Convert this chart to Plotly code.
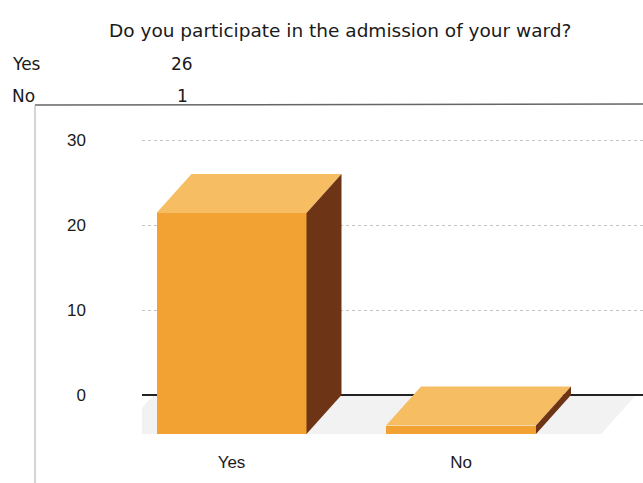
import plotly.graph_objects as go

# Survey answers and counts
categories = ["Yes", "No"]
counts = [26, 1]
y_ticks = [0, 10, 20, 30]
title_text = "Do you participate in the admission of your ward?"

W, H = 643, 483

# pixel geometry of the plotting region
PX_LEFT, PX_RIGHT = 142, 643
PX_TOP, PX_BOTTOM = 104, 445
PX_ZERO, PX_PER_UNIT_Y = 395, 8.5
PX_CAT0, PX_PER_CAT = 231.5, 229.5

y_lo = -(PX_BOTTOM - PX_ZERO) / PX_PER_UNIT_Y
y_hi = (PX_ZERO - PX_TOP) / PX_PER_UNIT_Y
x_lo = (PX_LEFT - PX_CAT0) / PX_PER_CAT
x_hi = (PX_RIGHT - PX_CAT0) / PX_PER_CAT

# 3D depth offset (back face relative to front face), in data units
DEPTH_X = 35 / PX_PER_CAT
DEPTH_Y = 39 / PX_PER_UNIT_Y
BAR_W = 150 / PX_PER_CAT

FRONT = "#F2A232"
TOP = "#F6BD62"
SIDE = "#6E3416"

xs = list(range(len(categories)))

fig = go.Figure()
# front faces, pushed forward (down) by the depth offset
fig.add_trace(go.Bar(
    x=xs, y=counts, base=[-DEPTH_Y] * len(counts), width=BAR_W,
    marker=dict(color=FRONT, line=dict(width=0)),
    hoverinfo="skip", showlegend=False,
))

shapes = []
# floor below the zero line
fx0, fx1 = x_lo + 0.05, x_hi - 0.03
shapes.append(dict(
    type="path", xref="x", yref="y", layer="below",
    path=f"M {fx0},{0} L {fx1},{0} L {fx1 - DEPTH_X},{-DEPTH_Y} L {fx0 - DEPTH_X},{-DEPTH_Y} Z",
    fillcolor="#f2f2f2", line=dict(width=0),
))

for x, v in zip(xs, counts):
    l, r = x - BAR_W / 2, x + BAR_W / 2
    top_f = v - DEPTH_Y
    # top face
    shapes.append(dict(
        type="path", xref="x", yref="y", layer="above",
        path=f"M {l},{top_f} L {l + DEPTH_X},{v} L {r + DEPTH_X},{v} L {r},{top_f} Z",
        fillcolor=TOP, line=dict(width=0),
    ))
    # right side face
    shapes.append(dict(
        type="path", xref="x", yref="y", layer="above",
        path=f"M {r},{-DEPTH_Y} L {r + DEPTH_X},{0} L {r + DEPTH_X},{v} L {r},{top_f} Z",
        fillcolor=SIDE, line=dict(width=0),
    ))

# chart frame lines
shapes.append(dict(type="line", xref="paper", yref="paper",
                   x0=35 / W, x1=1, y0=1 - 105 / H, y1=1 - 104 / H,
                   line=dict(color="#666666", width=1.5)))
shapes.append(dict(type="line", xref="paper", yref="paper",
                   x0=35 / W, x1=35 / W, y0=1 - 105 / H, y1=0,
                   line=dict(color="#aaaaaa", width=1)))

TEXT_FONT = dict(family="DejaVu Sans", size=17, color="#1a1a1a")
annotations = [
    dict(text=title_text, x=340 / W, y=1 - 30 / H, xref="paper", yref="paper",
         showarrow=False, xanchor="center", yanchor="middle",
         font=dict(family="DejaVu Sans", size=18.5, color="#1a1a1a")),
]
for i, (c, v) in enumerate(zip(categories, counts)):
    yy = 1 - (64 + 32 * i) / H
    annotations.append(dict(text=c, x=10 / W, y=yy, xref="paper", yref="paper",
                            showarrow=False, xanchor="left", yanchor="middle",
                            font=TEXT_FONT))
    annotations.append(dict(text=str(v), x=182 / W, y=yy, xref="paper", yref="paper",
                            showarrow=False, xanchor="center", yanchor="middle",
                            font=TEXT_FONT))

fig.update_layout(
    width=W, height=H,
    margin=dict(l=0, r=0, t=0, b=0),
    paper_bgcolor="white", plot_bgcolor="white",
    shapes=shapes, annotations=annotations,
    bargap=0,
    xaxis=dict(
        domain=[PX_LEFT / W, 1], range=[x_lo, x_hi],
        tickmode="array", tickvals=xs, ticktext=categories,
        showgrid=False, zeroline=False, showline=False, ticks="",
        tickfont=dict(family="Liberation Sans, Arial", size=17, color="#1a1a1a"),
        ticklabelstandoff=5,
    ),
    yaxis=dict(
        domain=[1 - PX_BOTTOM / H, 1 - PX_TOP / H], range=[y_lo, y_hi],
        tickmode="array", tickvals=y_ticks,
        showgrid=True, gridcolor="#c4c4c4", gridwidth=1, griddash="dot",
        zeroline=True, zerolinecolor="#222222", zerolinewidth=1.5,
        showline=False, ticks="",
        tickfont=dict(family="Liberation Sans, Arial", size=17, color="#1a1a1a"),
        ticklabelstandoff=55,
    ),
)

fig.write_html("out.html")
